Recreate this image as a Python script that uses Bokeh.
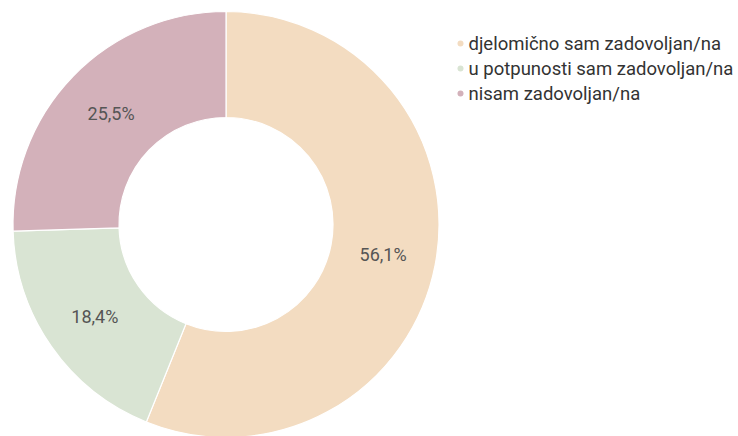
import math
from bokeh.plotting import figure
from bokeh.models import ColumnDataSource, Range1d
from bokeh.core.properties import value
from bokeh.embed import file_html
from bokeh.resources import INLINE

categories = ["djelomično sam zadovoljan/na", "u potpunosti sam zadovoljan/na", "nisam zadovoljan/na"]
values = [56.1, 18.4, 25.5]
labels = ["56,1%", "18,4%", "25,5%"]
colors = ["#F3DCC1", "#D9E4D3", "#D3B1BA"]

W, H = 738, 436
p = figure(width=W, height=H, output_backend="svg", toolbar_location=None,
           x_range=Range1d(0, W), y_range=Range1d(0, H), min_border=0)
p.axis.visible = False
p.grid.visible = False
p.outline_line_color = None
p.background_fill_color = "white"

cx, cy = 225.5, H - 224
r_out, r_in = 213, 107
total = sum(values)
starts, ends, lx, ly = [], [], [], []
cum = 0.0
for v in values:
    a0 = math.pi / 2 - cum / total * 2 * math.pi
    cum += v
    a1 = math.pi / 2 - cum / total * 2 * math.pi
    starts.append(a0)
    ends.append(a1)
    mid = (a0 + a1) / 2
    rm = (r_out + r_in) / 2
    lx.append(cx + rm * math.cos(mid))
    ly.append(cy + rm * math.sin(mid))

src = ColumnDataSource(dict(start=starts, end=ends, color=colors, lx=lx, ly=ly, label=labels, cat=categories))
p.annular_wedge(x=cx, y=cy, inner_radius=r_in, outer_radius=r_out, start_angle="start", end_angle="end",
                direction="clock", fill_color="color", line_color="white", line_width=1.2, source=src)
p.text(x="lx", y="ly", text="label", source=src, text_align="center", text_baseline="middle",
       text_font=value("Roboto"), text_font_size="18px", text_color="#555555")

# legend
ly0 = [H - 43, H - 68, H - 93]
leg = ColumnDataSource(dict(x=[460] * 3, tx=[468] * 3, y=ly0, color=colors, cat=categories))
p.scatter(x="x", y="y", size=6, fill_color="color", line_color=None, source=leg)
p.text(x="tx", y="y", text="cat", source=leg, text_align="left", text_baseline="middle",
       text_font=value("Roboto"), text_font_size="18.5px", text_color="#333333")

open("out.html", "w").write(file_html(p, INLINE))
